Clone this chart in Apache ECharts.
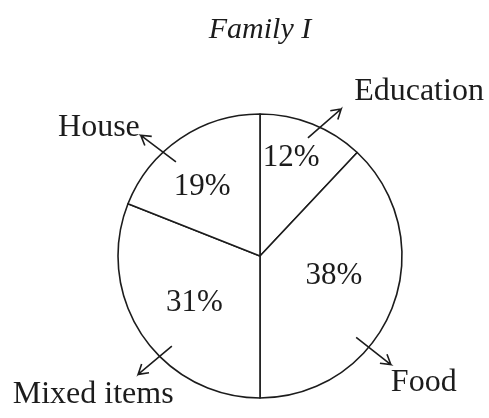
<!DOCTYPE html>
<html>
<head>
<meta charset="utf-8">
<script src="https://cdn.jsdelivr.net/npm/echarts@6.0.0/dist/echarts.min.js"></script>
<style>
  html, body { margin: 0; padding: 0; background: #fff; }
  #chart { width: 489px; height: 418px; }
</style>
</head>
<body>
<div id="chart"></div>
<script>
  // data
  const titleText = 'Family I';
  const categories = ['Education', 'Food', 'Mixed items', 'House'];
  const shares = [12, 38, 31, 19];

  // arrow look: where the arrow crosses the circle and which way it points (deg, clockwise from 12 o'clock)
  const arrowCross = [25, 130, 225, 317];
  const arrowDir = [49, 128, 230, 307];
  // text anchor relative to arrow tip
  const nameOffset = [[13, -17, 'left'], [0, 18, 'left'], [-45, 20, 'center'], [-1, -8, 'right']];
  // small nudges of the % labels
  const pctNudge = [[-2, -14], [-10, -13], [9, -4], [-7, 6]];

  const chart = echarts.init(document.getElementById('chart'));
  const center = [260, 256];
  const radius = 142;
  const ink = '#1c1c1c';
  const font = 'Liberation Serif';

  function rad(d) { return d * Math.PI / 180; }

  // arrow = shaft + open head, drawn as the label guide line
  function arrowLayout(params) {
    const i = params.dataIndex;
    const c = rad(arrowCross[i]);
    const d = rad(arrowDir[i]);
    const px = center[0] + radius * Math.sin(c);
    const py = center[1] - radius * Math.cos(c);
    const ux = Math.sin(d), uy = -Math.cos(d);
    const start = [px - ux * 16, py - uy * 16];
    const tip = [px + ux * 28, py + uy * 28];
    const h = 11, spread = 0.55;
    const a = Math.atan2(uy, ux);
    const b1 = [tip[0] - h * Math.cos(a - spread), tip[1] - h * Math.sin(a - spread)];
    const b2 = [tip[0] - h * Math.cos(a + spread), tip[1] - h * Math.sin(a + spread)];
    const off = nameOffset[i];
    return {
      x: tip[0] + off[0],
      y: tip[1] + off[1],
      align: off[2],
      verticalAlign: 'middle',
      labelLinePoints: [start, tip, b1, tip, b2]
    };
  }

  const pieData = categories.map((name, i) => ({ name: name, value: shares[i] }));

  const option = {
    animation: false,
    backgroundColor: '#fff',
    title: {
      text: titleText,
      left: 255,
      top: 10,
      textAlign: 'center',
      textStyle: {
        fontFamily: font,
        fontStyle: 'italic',
        fontWeight: 'normal',
        fontSize: 30,
        color: ink
      }
    },
    series: [
      {
        name: 'slices',
        type: 'pie',
        z: 1,
        center: center,
        radius: radius,
        startAngle: 90,
        clockwise: true,
        emphasis: { disabled: true },
        itemStyle: { color: '#fff', borderColor: ink, borderWidth: 1.6 },
        label: { show: false },
        labelLine: { show: false },
        data: pieData
      },
      {
        name: 'shares',
        type: 'pie',
        z: 3,
        silent: true,
        center: center,
        radius: radius * 1.23,
        startAngle: 90,
        clockwise: true,
        itemStyle: { color: 'rgba(0,0,0,0)', borderWidth: 0 },
        label: {
          show: true,
          position: 'inside',
          formatter: '{c}%',
          fontFamily: font,
          fontSize: 31,
          color: ink
        },
        labelLine: { show: false },
        labelLayout: function (params) {
          const n = pctNudge[params.dataIndex];
          return { dx: n[0], dy: n[1] };
        },
        data: pieData
      },
      {
        name: 'names',
        type: 'pie',
        z: 4,
        silent: true,
        center: center,
        radius: radius,
        startAngle: 90,
        clockwise: true,
        avoidLabelOverlap: false,
        itemStyle: { color: 'rgba(0,0,0,0)', borderWidth: 0 },
        label: {
          show: true,
          position: 'outside',
          formatter: '{b}',
          fontFamily: font,
          fontSize: 32,
          color: ink
        },
        labelLine: {
          show: true,
          length: 20,
          length2: 0,
          lineStyle: { color: ink, width: 1.6 }
        },
        labelLayout: arrowLayout,
        data: pieData
      }
    ]
  };

  chart.setOption(option);
</script>
</body>
</html>
